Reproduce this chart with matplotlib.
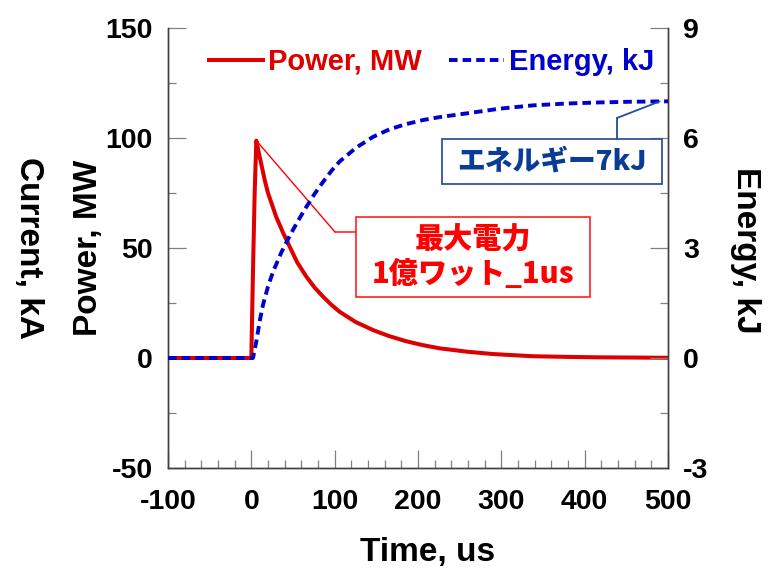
import numpy as np
import matplotlib
matplotlib.use("Agg")
import matplotlib.pyplot as plt
from matplotlib.patches import Rectangle
from matplotlib.ticker import MultipleLocator

plt.rcParams['font.family'] = ['Liberation Sans', 'Noto Sans CJK JP']
plt.rcParams['axes.unicode_minus'] = False

# ---- data ----
t_power = [-100, 0, 2, 4, 6, 8, 12, 16, 20, 25, 30, 38, 46, 55, 66, 76, 86, 96, 106,
           125, 146, 165, 186, 205, 226, 258, 290, 338, 380, 418, 460, 500]
power_mw = [0, 0, 40, 75, 98.8, 95, 88, 81, 75, 69.5, 64, 57, 50.6, 43.5, 37, 32, 27.9,
            24.2, 21, 16.4, 12.7, 10, 7.6, 5.9, 4.4, 2.9, 1.8, 0.8, 0.5, 0.3, 0.2, 0.1]

t_energy = [-100, 2, 6, 10, 14, 20, 26, 36, 46, 56, 66, 76, 86, 96, 106, 126, 146, 166,
            186, 206, 226, 258, 298, 338, 378, 418, 458, 500]
energy_kj = [0, 0, 0.45, 1.0, 1.45, 1.95, 2.35, 2.88, 3.33, 3.74, 4.12, 4.48, 4.8, 5.1,
             5.36, 5.74, 6.03, 6.24, 6.38, 6.49, 6.57, 6.67, 6.8, 6.89, 6.94, 6.97,
             6.99, 7.0]

x_ticks = [-100, 0, 100, 200, 300, 400, 500]
left_ticks = [-50, 0, 50, 100, 150]
right_ticks = [-3, 0, 3, 6, 9]

power_label = "Power, MW"
energy_label = "Energy, kJ"
peak_note = "最大電力\n1億ワット_1us"
energy_note = "エネルギー7kJ"

# ---- figure ----
W, H = 779, 570
fig = plt.figure(figsize=(W / 100, H / 100), dpi=100)
ax = fig.add_axes([168 / W, 1 - 468 / H, 500 / W, 440 / H])
ax2 = ax.twinx()

red = '#dd0000'
blue = '#0000cc'
spine_c = '#404040'
tick_c = '#808080'

l1, = ax.plot(t_power, power_mw, color=red, lw=2.9, label=power_label, zorder=3,
              solid_joinstyle='round')
l2, = ax2.plot(t_energy, energy_kj, color=blue, lw=2.8, linestyle=(0, (2.2, 1.3)),
               label=energy_label, zorder=3)

ax.set_xlim(-100, 500)
ax.set_ylim(-50, 150)
ax2.set_ylim(-3, 9)

ax.set_xticks(x_ticks)
ax.set_yticks(left_ticks)
ax2.set_yticks(right_ticks)
ax.xaxis.set_minor_locator(MultipleLocator(20))
ax.yaxis.set_minor_locator(MultipleLocator(25))
ax2.yaxis.set_minor_locator(MultipleLocator(1.5))

for a in (ax, ax2):
    a.spines['top'].set_visible(False)
    for s in ('left', 'right', 'bottom'):
        a.spines[s].set_color(spine_c)
        a.spines[s].set_linewidth(1.0)
    a.tick_params(which='major', direction='in', length=13, width=0.9, color=tick_c,
                  labelsize=20.5)
    a.tick_params(which='minor', direction='in', length=6, width=0.9, color=tick_c)
ax.tick_params(axis='x', which='major', pad=15)
ax.tick_params(axis='y', which='major', pad=11)
ax2.tick_params(axis='y', which='major', pad=11)
for lab in ax.get_xticklabels() + ax.get_yticklabels() + ax2.get_yticklabels():
    lab.set_fontweight('bold')

# axis titles
fig.text(428 / W, 1 - 561 / H, "Time, us", fontsize=24, fontweight='bold',
         ha='center', va='baseline')
fig.text(89 / W, 1 - 248 / H, power_label, fontsize=24, fontweight='bold',
         rotation=90, rotation_mode='anchor', ha='center', va='center')
fig.text(28 / W, 1 - 248 / H, "Current, kA", fontsize=24, fontweight='bold',
         rotation=270, rotation_mode='anchor', ha='center', va='center')
fig.text(746 / W, 1 - 250 / H, energy_label, fontsize=24, fontweight='bold',
         rotation=270, rotation_mode='anchor', ha='center', va='center')

# legend
leg = ax2.legend(handles=[l1, l2], loc='center', bbox_to_anchor=(0.527, 0.923), ncol=2,
                 frameon=False, prop={'size': 21, 'weight': 'bold'},
                 handlelength=1.86, handletextpad=0.17, columnspacing=0.93,
                 labelcolor='linecolor')

# ---- annotation: peak power ----
ipk = int(np.argmax(power_mw))
peak_xy = (t_power[ipk], power_mw[ipk])
rbox = (0.376, 0.3886, 0.844 - 0.376, 0.5705 - 0.3886)
ax2.add_patch(Rectangle(rbox[:2], rbox[2], rbox[3], transform=ax.transAxes,
                        fill=True, facecolor='white', edgecolor='#ff2020', lw=1.2,
                        zorder=4))
ax2.text(0.61, 0.4795, peak_note, transform=ax.transAxes, ha='center', va='center',
         fontsize=21, fontweight='heavy', color='#ff0000', linespacing=1.2,
         family=['Noto Sans CJK JP'], zorder=5)
corner_r = (0.334, 0.5364)
ax.annotate('', xy=peak_xy, xycoords='data', xytext=corner_r, textcoords='axes fraction',
            arrowprops=dict(arrowstyle='-', color='#ff0000', lw=1.0,
                            shrinkA=0, shrinkB=0), zorder=4)
ax.annotate('', xy=corner_r, xycoords='axes fraction', xytext=(rbox[0], corner_r[1]),
            textcoords='axes fraction',
            arrowprops=dict(arrowstyle='-', color='#ff0000', lw=1.0,
                            shrinkA=0, shrinkB=0), zorder=4)

# ---- annotation: total energy ----
e_xy = (490, float(np.interp(490, t_energy, energy_kj)))
bbox_b = (0.548, 0.6455, 0.988 - 0.548, 0.7477 - 0.6455)
ax2.add_patch(Rectangle(bbox_b[:2], bbox_b[2], bbox_b[3], transform=ax.transAxes,
                        fill=True, facecolor='white', edgecolor='#2f5597', lw=1.3,
                        zorder=4))
ax2.text(0.768, 0.6977, energy_note, transform=ax.transAxes, ha='center', va='center',
         fontsize=20, fontweight='heavy', color='#0a3c96',
         family=['Noto Sans CJK JP'], zorder=5)
corner_b = (0.898, 0.7955)
ax2.annotate('', xy=e_xy, xycoords='data', xytext=corner_b, textcoords='axes fraction',
             arrowprops=dict(arrowstyle='-', color='#1f4e9c', lw=1.3,
                             shrinkA=0, shrinkB=0), zorder=4)
ax2.annotate('', xy=corner_b, xycoords='axes fraction',
             xytext=(corner_b[0], bbox_b[1] + bbox_b[3]), textcoords='axes fraction',
             arrowprops=dict(arrowstyle='-', color='#1f4e9c', lw=1.3,
                             shrinkA=0, shrinkB=0), zorder=4)

fig.savefig('out.png', dpi=100)
